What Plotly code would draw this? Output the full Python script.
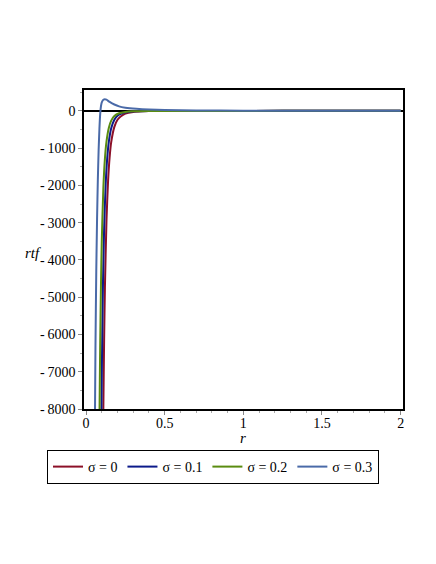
import plotly.graph_objects as go

# sigma = 0
r_s0 = [0.105, 0.11, 0.115, 0.12, 0.13, 0.14, 0.15, 0.16, 0.18, 0.20, 0.22, 0.25, 0.30, 0.35, 0.40, 0.50, 0.70, 1.0, 1.5, 2.0]
v_s0 = [-10580, -8000, -6130, -4740, -2940, -1880, -1240, -840, -430, -240, -150, -75, -28, -11, -5, -1.5, -0.6, -0.3, -0.1, -0.05]
# sigma = 0.1
r_s1 = [0.093, 0.098, 0.103, 0.108, 0.115, 0.125, 0.135, 0.145, 0.16, 0.18, 0.20, 0.23, 0.27, 0.32, 0.40, 0.50, 0.70, 1.0, 1.5, 2.0]
v_s1 = [-10840, -8000, -6000, -4550, -3160, -1950, -1250, -825, -467, -240, -130, -65, -30, -12, -4, -1.5, -0.6, -0.3, -0.1, -0.05]
# sigma = 0.2
r_s2 = [0.081, 0.086, 0.09, 0.095, 0.10, 0.11, 0.12, 0.13, 0.145, 0.16, 0.18, 0.21, 0.25, 0.30, 0.40, 0.50, 0.70, 1.0, 1.5, 2.0]
v_s2 = [-11120, -8000, -6230, -4630, -3490, -2070, -1280, -824, -452, -263, -140, -65, -30, -12, -4, -1.5, -0.6, -0.3, -0.1, -0.05]
# sigma = 0.3
r_s3 = [0.054, 0.057, 0.06, 0.065, 0.07, 0.075, 0.08, 0.085, 0.09, 0.095, 0.10, 0.11, 0.12, 0.13, 0.15, 0.18, 0.21, 0.25, 0.32, 0.40, 0.50, 0.70, 1.0, 1.5, 2.0]
v_s3 = [-9500, -8000, -6300, -4300, -2900, -1850, -1050, -480, -80, 130, 230, 300, 315, 300, 240, 170, 120, 85, 55, 35, 22, 10, 5, 2, 1]

names = ["σ = 0", "σ = 0.1", "σ = 0.2", "σ = 0.3"]
colors = ["#8c1028", "#0c1a8a", "#5a8c10", "#4a6aa8"]

y_tickvals = [0, -1000, -2000, -3000, -4000, -5000, -6000, -7000, -8000]
y_ticktext = ["0"] + ["-\u2009" + str(-v) for v in y_tickvals[1:]]
x_tickvals = [0, 0.5, 1, 1.5, 2]
x_ticktext = ["0", "0.5", "1", "1.5", "2"]

font_family = "Liberation Serif"

# page body has an 8px margin, so offsets are relative to (8, 8)
L, T, R, B = 84 - 8, 90 - 8, 403 - 8, 409 - 8
PW, PH = R - L, B - T

fig = go.Figure()
for rr, vv, nm, col in zip([r_s0, r_s1, r_s2, r_s3], [v_s0, v_s1, v_s2, v_s3], names, colors):
    fig.add_trace(go.Scatter(x=rr, y=vv, mode="lines", name=nm,
                             line=dict(color=col, width=2, shape="spline", smoothing=0.6)))

fig.update_layout(
    width=436, height=564,
    margin=dict(l=L, r=436 - R, t=T, b=564 - B, autoexpand=False),
    paper_bgcolor="white", plot_bgcolor="white",
    font=dict(family=font_family, size=13, color="black"),
    showlegend=True,
    legend=dict(orientation="h", x=(47 - 84) / PW, xanchor="left", y=(409 - 450) / PH, yanchor="top",
                bordercolor="black", borderwidth=1, font=dict(family=font_family, size=14),
                itemwidth=30, tracegroupgap=0),
    xaxis=dict(range=[-0.013, 2.015], tickvals=x_tickvals, ticktext=x_ticktext,
               showgrid=False, zeroline=False, showline=True, linecolor="black", linewidth=1.5,
               mirror=True, ticks="outside", ticklen=4, tickcolor="#888888",
               ticklabelstandoff=-4,
               minor=dict(dtick=0.1, tick0=0, ticks="outside", ticklen=2, tickcolor="#aaaaaa"),
               tickfont=dict(family=font_family, size=14)),
    yaxis=dict(range=[-8000, 560], tickvals=y_tickvals, ticktext=y_ticktext,
               showgrid=False, zeroline=True, zerolinecolor="black", zerolinewidth=1.5,
               showline=True, linecolor="black", linewidth=1.5,
               mirror=True, ticks="outside", ticklen=4, tickcolor="#888888",
               minor=dict(dtick=500, tick0=0, ticks="outside", ticklen=2, tickcolor="#aaaaaa"),
               tickfont=dict(family=font_family, size=14)),
    annotations=[
        dict(text="<i>r</i>", xref="paper", yref="paper", x=(243 - 84) / PW, y=(409 - 438) / PH,
             xanchor="center", yanchor="middle",
             showarrow=False, font=dict(family=font_family, size=15)),
        dict(text="<i>rtf</i>", xref="paper", yref="paper", x=(33 - 84) / PW, y=(409 - 253) / PH,
             xanchor="center", yanchor="middle",
             showarrow=False, font=dict(family=font_family, size=15)),
    ],
)

fig.write_html("out.html")
